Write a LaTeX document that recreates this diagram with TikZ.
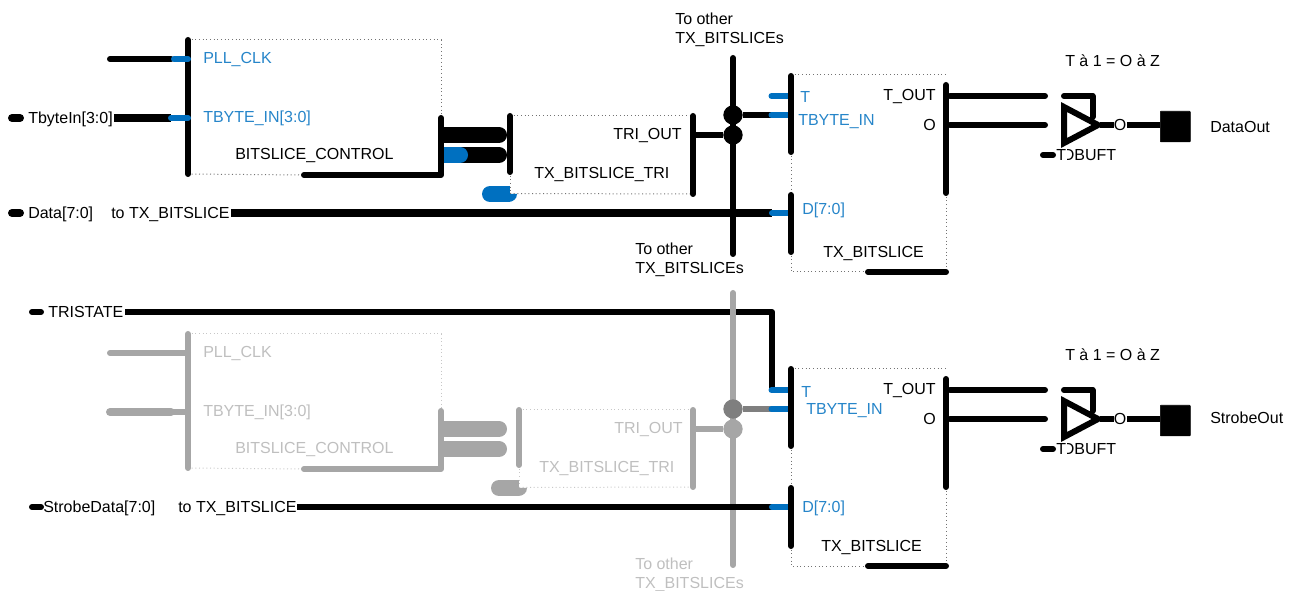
\documentclass[tikz,border=0pt]{standalone}
\usepackage{fontspec}
\setmainfont{Liberation Sans}
\definecolor{bl}{HTML}{0070C0}
\definecolor{gw}{HTML}{A6A6A6}
\definecolor{gt}{HTML}{BFBFBF}
\definecolor{dg}{HTML}{7F7F7F}
\tikzset{
 tx/.style={inner sep=0pt,font=\fontsize{12pt}{14.5pt}\selectfont,anchor=west,text height=8.5pt,text depth=2.2pt,yshift=-0.75pt},
 txr/.style={tx,anchor=east},
 btx/.style={tx,text=bl!85!white},
 gtx/.style={tx,text=gt},
 wire/.style={line width=4.5pt,line cap=round,line join=round},
 stub/.style={line width=4.5pt,line cap=round,bl},
 fat/.style={line width=12pt,line cap=round},
 dots/.style={line width=.75pt,dotted,black!55},
 gdots/.style={line width=.75pt,dotted,black!22},
 pin/.style={circle,inner sep=0pt,minimum size=14.5pt,fill=black},
}
\begin{document}
\begin{tikzpicture}[x=0.75pt,y=-0.75pt]
\useasboundingbox (0,0) rectangle (1293,591);
% ---------- top : control block
\coordinate (a1) at (188,40); \coordinate (a2) at (188,174);
\coordinate (a3) at (441,40); \coordinate (a4) at (441,118);
\coordinate (a5) at (441,175); \coordinate (a6) at (304,175);
\draw[dots] (a1) -- (a3) -- (a4);
\draw[dots] (a2) -- (a6);
\draw[wire] (a1) -- (a2);
\draw[wire] (a6) -- (a5) -- (a4);
\coordinate (p1) at (110,59); \coordinate (p2) at (171,59); \coordinate (p2b) at (174,59); \coordinate (p3) at (188,59);
\draw[wire] (p1) -- (p2);
\draw[stub] (p2b) -- (p3);
\coordinate (t0) at (12,118); \coordinate (t00) at (20,118); \coordinate (t1) at (114,118); \coordinate (t2) at (171,118); \coordinate (t3) at (188,118);
\draw[line width=6pt,line cap=round] (t0) -- (t00);
\draw[line width=6pt] (t1) -- (t2);
\draw[stub] (t2) -- (t3);
\node[btx] (npll) at (203,58) {PLL\_CLK};
\node[btx] (ntb) at (203,117) {TBYTE\_IN[3:0]};
\node[tx] (nbc) at (235,154) {BITSLICE\_CONTROL};
\node[tx] (nti) at (28,118) {TbyteIn[3:0]};
% fat links
\coordinate (f1) at (441,135); \coordinate (f2) at (499,135);
\coordinate (f3) at (441,155); \coordinate (f4) at (499,155);
\draw[fat,line cap=butt] (f1) -- (f2);
\draw[fat] (f2) -- ++(.01,0);
\draw[fat,line cap=butt] (f3) -- (f4);
\draw[fat] (f4) -- ++(.01,0);
\coordinate (f5) at (444,155); \coordinate (f6) at (460,155);
\draw[fat,bl,line cap=butt] (f5) -- (f6);
\draw[fat,bl] (f6) -- ++(.01,0);
% TRI block
\coordinate (b1) at (510,116); \coordinate (b2) at (510,172); \coordinate (b3) at (510,193);
\coordinate (b4) at (693,116); \coordinate (b5) at (693,194);
\draw[dots] (b1) -- (b4);
\draw[dots] (b2) -- (b3);
\draw[wire] (b1) -- (b2);
\coordinate (bb1) at (490,194); \coordinate (bb2) at (510,194);
\draw[fat,bl,line cap=butt] (bb1) -- (bb2);
\draw[fat,bl] (bb1) -- ++(.01,0);
\fill[bl] (505,194) -- (517,194) .. controls (517,199) and (513,202) .. (508,202) -- (505,202) -- cycle;
\draw[dots] (510,193.5) -- (b5);
\draw[wire] (b4) -- (b5);
\node[txr] (ntro) at (682,134) {TRI\_OUT};
\node[tx] (ntbt) at (534,173) {TX\_BITSLICE\_TRI};
% bus + junctions
\coordinate (v1) at (733,58); \coordinate (v2) at (733,254);
\draw[wire] (v1) -- (v2);
\node[pin] (j1) at (733,115) {};
\node[pin] (j2) at (733,135) {};
\coordinate (w1) at (693,135);
\draw[wire,line cap=butt] (w1) -- (j2);
\coordinate (w2) at (771.5,115); \coordinate (w3) at (790.5,115); \coordinate (w4) at (771.5,96); \coordinate (w5) at (790.5,96);
\draw[wire,line cap=butt] (j1) -- (w2);
\draw[stub] (w2) -- (w3);
\draw[stub] (w4) -- (w5);
\node[tx] (ndat) at (28,213) {Data[7:0]};
\node[tx] (ntob) at (111,213) {to TX\_BITSLICE};
\coordinate (d0) at (12,213); \coordinate (d00) at (20,213); \coordinate (d1) at (231,213); \coordinate (d2) at (772,213); \coordinate (d3) at (788,213);
\draw[line width=6pt,line cap=round] (d0) -- (d00);
\draw[line width=6pt] (d1) -- (d2);
\draw[stub] (d2) -- (d3);
% TX block
\coordinate (c0) at (791,75); \coordinate (c1) at (791,76); \coordinate (c2) at (791,152); \coordinate (c3) at (791,195); \coordinate (c4) at (791,252); \coordinate (c5) at (791,272);
\coordinate (c6) at (868,272); \coordinate (c7) at (946,272); \coordinate (c8) at (946,75); \coordinate (c9) at (946,85); \coordinate (c10) at (946,193);
\draw[dots] (c0) -- (c8);
\draw[dots] (c2) -- (c3);
\draw[dots] (c4) -- (c5) -- (c6);
\draw[dots] (c10) -- (c7);
\draw[wire] (c1) -- (c2);
\draw[wire] (c3) -- (c4);
\draw[wire] (c9) -- (c10);
\draw[wire] (c6) -- (c7);
\node[btx] (nt) at (800,97) {T};
\node[btx] (ntb2) at (798,120) {TBYTE\_IN};
\node[btx] (nd) at (802,209) {D[7:0]};
\node[tx] (ntx) at (823,252) {TX\_BITSLICE};
\node[txr] (ntout) at (936,95) {T\_OUT};
\node[txr] (no) at (936,125) {O};
\node[tx,align=left,text height=,text depth=] (nto1) at (675,29) {To other\\[0pt]TX\_BITSLICEs};
\node[tx,align=left,text height=,text depth=] (nto2) at (635,259) {To other\\[0pt]TX\_BITSLICEs};
% buffer
\coordinate (e1) at (950,96); \coordinate (e2) at (1045,96); \coordinate (e3) at (950,125); \coordinate (e4) at (1045,125);
\draw[wire] (e1) -- (e2);
\draw[wire] (e3) -- (e4);
\coordinate (g1) at (1064,107); \coordinate (g2) at (1064,143); \coordinate (g3) at (1098,125);
\draw[line width=4.5pt,line join=miter] (g1) -- (g3) -- (g2) -- cycle;
\coordinate (h1) at (1064,96); \coordinate (h2) at (1092.5,96); \coordinate (h3) at (1092.5,117);
\draw[wire] (h1) -- (h2) -- (h3);
\node[tx] (nob) at (1113.5,125) {O};
\coordinate (i1) at (1100,125); \coordinate (i2) at (1114,125); \coordinate (i3) at (1127,125); \coordinate (i4) at (1160,125);
\draw[wire,line cap=butt] (i1) -- (i2);
\draw[wire,line cap=butt] (i3) -- (i4);
\node[draw=black,fill=black,rounded corners=.5pt,minimum width=22.5pt,minimum height=23pt,inner sep=0pt,anchor=north west] (sq1) at (1160,111) {};
\node[tx] (nout) at (1210,127) {DataOut};
\node[tx] (ntz) at (1065,61) {T à 1 = O à Z};
\coordinate (s1) at (1043,155); \coordinate (s2) at (1053,155);
\draw[wire] (s1) -- (s2);
\node[tx] (nbuf) at (1062.5,155) {DBUFT};
\fill[white] (1063,147) rectangle (1067,162);
\node[tx] (nbuft) at (1056,155) {T};
% ---------- bottom : control block (grey)
\coordinate (ga1) at (188,334); \coordinate (ga2) at (188,468);
\coordinate (ga3) at (441,334); \coordinate (ga4) at (441,411);
\coordinate (ga5) at (441,469); \coordinate (ga6) at (304,469);
\draw[gdots] (ga1) -- (ga3) -- (ga4);
\draw[gdots] (ga2) -- (ga6);
\draw[wire,gw] (ga1) -- (ga2);
\draw[wire,gw] (ga6) -- (ga5) -- (ga4);
\coordinate (gp1) at (110,353); \coordinate (gp3) at (188,353);
\draw[wire,gw] (gp1) -- (gp3);
\coordinate (gt1) at (110,412); \coordinate (gt2) at (171,412); \coordinate (gt3) at (188,412);
\draw[line width=6pt,line cap=round,gw] (gt1) -- (gt2);
\draw[wire,gw] (gt2) -- (gt3);
\node[gtx] (gnpll) at (203,352) {PLL\_CLK};
\node[gtx] (gntb) at (203,411) {TBYTE\_IN[3:0]};
\node[gtx] (gnbc) at (235,448) {BITSLICE\_CONTROL};
\coordinate (gf1) at (441,429); \coordinate (gf2) at (499,429);
\coordinate (gf3) at (441,449); \coordinate (gf4) at (499,449);
\draw[fat,gw,line cap=butt] (gf1) -- (gf2);
\draw[fat,gw] (gf2) -- ++(.01,0);
\draw[fat,gw,line cap=butt] (gf3) -- (gf4);
\draw[fat,gw] (gf4) -- ++(.01,0);
\coordinate (gb1) at (519,410); \coordinate (gb2) at (519,465); \coordinate (gb3) at (519,487);
\coordinate (gb4) at (693,410); \coordinate (gb5) at (693,487);
\draw[gdots] (gb1) -- (gb4);
\draw[gdots] (gb2) -- (gb3);
\draw[wire,gw] (gb1) -- (gb2);
\coordinate (gbb1) at (499,488); \coordinate (gbb2) at (519,488);
\draw[fat,gw,line cap=butt] (gbb1) -- (gbb2);
\draw[fat,gw] (gbb1) -- ++(.01,0);
\fill[gw] (515,488) -- (527,488) .. controls (527,493) and (523,496) .. (518,496) -- (515,496) -- cycle;
\draw[gdots] (519,487.5) -- (gb5);
\draw[wire,gw] (gb4) -- (gb5);
\node[gtx,anchor=east] (gntro) at (683,428) {TRI\_OUT};
\node[gtx] (gntbt) at (539,467) {TX\_BITSLICE\_TRI};
% TRISTATE
\coordinate (ts0) at (32,312); \coordinate (ts00) at (41,312); \coordinate (ts1) at (125,312); \coordinate (ts2) at (772,312); \coordinate (ts3) at (772,390); \coordinate (ts4) at (790.5,390);
\draw[line width=4.5pt,line cap=round] (ts0) -- (ts00);
\draw[wire,line cap=butt] (ts1) -- (ts2) -- (ts3);
\node[tx] (ntri) at (48,312) {TRISTATE};
\node[tx] (nsd) at (43,507) {StrobeData[7:0]};
\node[tx] (nto3) at (178,507) {to TX\_BITSLICE};
\coordinate (gv1) at (733,293); \coordinate (gv2) at (733,565);
\draw[wire,gw] (gv1) -- (gv2);
\node[pin,fill=dg] (gj1) at (733,409) {};
\node[pin,fill=gw] (gj2) at (733,429) {};
\coordinate (gw1) at (693,429);
\draw[wire,gw,line cap=butt] (gw1) -- (gj2);
\coordinate (gw2) at (771.5,409); \coordinate (gw3) at (790.5,409);
\draw[wire,dg,line cap=butt] (gj1) -- (gw2);
\draw[stub] (gw2) -- (gw3);
\coordinate (ts3b) at (771.5,390);
\draw[stub] (ts3b) -- (ts4);
\coordinate (sd0) at (32,507); \coordinate (sd00) at (41,507); \coordinate (sd1) at (297,507); \coordinate (sd2) at (772,507); \coordinate (sd3) at (788,507);
\draw[line width=4.5pt,line cap=round] (sd0) -- (sd00);
\draw[wire,line cap=butt] (sd1) -- (sd2);
\draw[stub] (sd2) -- (sd3);
% TX block 2
\coordinate (k0) at (791,369); \coordinate (k1) at (791,369); \coordinate (k2) at (791,446); \coordinate (k3) at (791,488); \coordinate (k4) at (791,546); \coordinate (k5) at (791,566);
\coordinate (k6) at (868,566); \coordinate (k7) at (946,566); \coordinate (k8) at (946,369); \coordinate (k9) at (946,379); \coordinate (k10) at (946,487);
\draw[dots] (k0) -- (k8);
\draw[dots] (k2) -- (k3);
\draw[dots] (k4) -- (k5) -- (k6);
\draw[dots] (k10) -- (k7);
\draw[wire] (k1) -- (k2);
\draw[wire] (k3) -- (k4);
\draw[wire] (k9) -- (k10);
\draw[wire] (k6) -- (k7);
\node[btx] (mt) at (801,392) {T};
\node[btx] (mtb2) at (806,409) {TBYTE\_IN};
\node[btx] (md) at (802,507) {D[7:0]};
\node[tx] (mtx) at (821,546) {TX\_BITSLICE};
\node[txr] (mtout) at (936,389) {T\_OUT};
\node[txr] (mo) at (936,419) {O};
\node[gtx,align=left,text height=,text depth=] (mto2) at (635,573.5) {To other\\[0pt]TX\_BITSLICEs};
% buffer 2
\coordinate (me1) at (950,390); \coordinate (me2) at (1045,390); \coordinate (me3) at (950,419); \coordinate (me4) at (1045,419);
\draw[wire] (me1) -- (me2);
\draw[wire] (me3) -- (me4);
\coordinate (mg1) at (1064,401); \coordinate (mg2) at (1064,437); \coordinate (mg3) at (1098,419);
\draw[line width=4.5pt,line join=miter] (mg1) -- (mg3) -- (mg2) -- cycle;
\coordinate (mh1) at (1064,390); \coordinate (mh2) at (1092.5,390); \coordinate (mh3) at (1092.5,411);
\draw[wire] (mh1) -- (mh2) -- (mh3);
\node[tx] (mob) at (1113.5,419) {O};
\coordinate (mi1) at (1100,419); \coordinate (mi2) at (1114,419); \coordinate (mi3) at (1127,419); \coordinate (mi4) at (1160,419);
\draw[wire,line cap=butt] (mi1) -- (mi2);
\draw[wire,line cap=butt] (mi3) -- (mi4);
\node[draw=black,fill=black,rounded corners=.5pt,minimum width=22.5pt,minimum height=23pt,inner sep=0pt,anchor=north west] (sq2) at (1160,405) {};
\node[tx] (mout) at (1210,418) {StrobeOut};
\node[tx] (mtz) at (1065,355) {T à 1 = O à Z};
\coordinate (ms1) at (1043,449); \coordinate (ms2) at (1053,449);
\draw[wire] (ms1) -- (ms2);
\node[tx] (mbuf) at (1062.5,449) {DBUFT};
\fill[white] (1063,441) rectangle (1067,456);
\node[tx] (mbuft) at (1056,449) {T};
\end{tikzpicture}
\end{document}
